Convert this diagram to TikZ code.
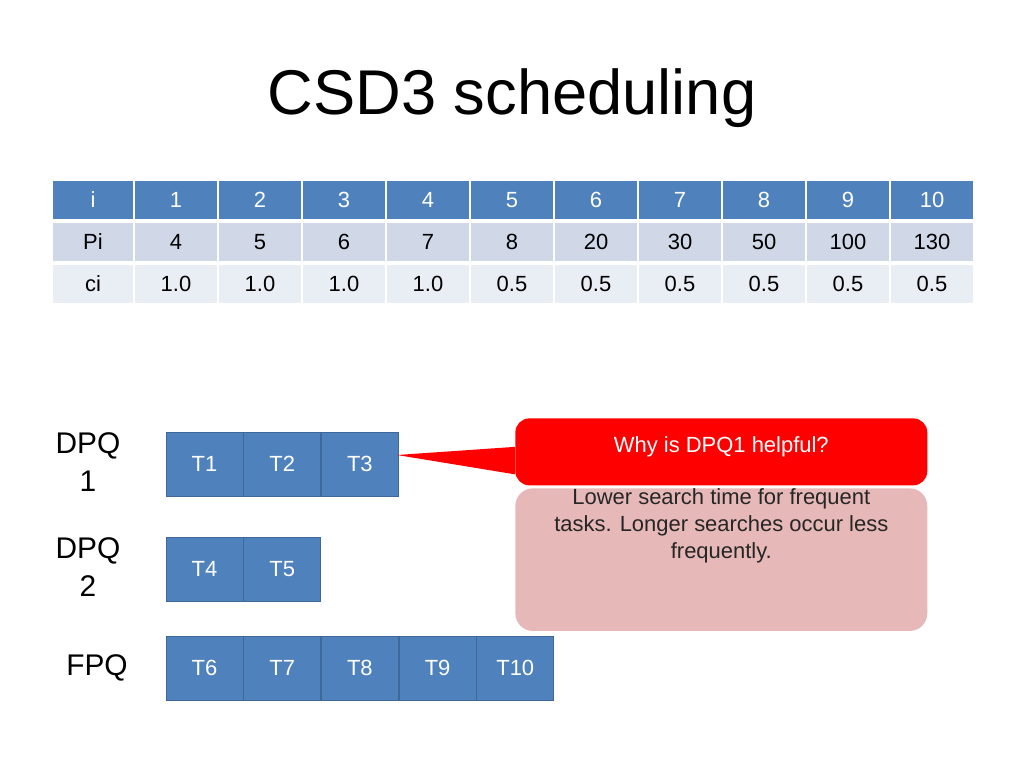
\documentclass[tikz,border=0pt]{standalone}
\usepackage{fontspec}
\setmainfont{Liberation Sans}
\usetikzlibrary{positioning}
\definecolor{hdblue}{RGB}{79,129,189}
\definecolor{rowa}{RGB}{208,216,232}
\definecolor{rowb}{RGB}{233,237,244}
\definecolor{callred}{RGB}{255,0,0}
\definecolor{callpink}{RGB}{230,184,183}
\tikzset{
  cell/.style={fill=#1, draw=white, line width=1.2pt, minimum height=0.8cm, inner sep=0pt, font=\fontsize{12.5}{14}\selectfont},
  task/.style={fill=hdblue, draw=hdblue!80!black, line width=0.4pt, minimum width=1.54cm, minimum height=1.28cm, text=white, font=\fontsize{12.5}{14}\selectfont},
  qlabel/.style={align=center, font=\fontsize{17}{22}\selectfont}
}
\begin{document}
\begin{tikzpicture}[x=0.02cm, y=-0.02cm]
\useasboundingbox (0,0) rectangle (1024,768);
\node (title) at (512,98) {\fontsize{36}{40}\selectfont CSD3 scheduling};

% table
\node (h0) [cell=hdblue, text=white, minimum width=1.64cm] at (93,200) {i};
\node (p0) [cell=rowa, minimum width=1.64cm] at (93,242) {Pi};
\node (c0) [cell=rowb, minimum width=1.64cm] at (93,284) {ci};
\foreach \i/\p/\c [count=\k] in {1/4/1.0, 2/5/1.0, 3/6/1.0, 4/7/1.0, 5/8/0.5, 6/20/0.5, 7/30/0.5, 8/50/0.5, 9/100/0.5, 10/130/0.5} {
  \node (h\k) [cell=hdblue, text=white, minimum width=1.68cm] at (134+42+84*\k-84,200) {\i};
  \node (p\k) [cell=rowa, minimum width=1.68cm] at (134+42+84*\k-84,242) {\p};
  \node (c\k) [cell=rowb, minimum width=1.68cm] at (134+42+84*\k-84,284) {\c};
}

% queues
\node (dpq1) [qlabel] at (88,462) {DPQ\\1};
\node (dpq2) [qlabel] at (88,567) {DPQ\\2};
\node (fpq) [qlabel] at (97,668) {FPQ};
\node (t1) [task] at (204.5,464) {T1};
\node (t2) [task, right=0pt of t1] {T2};
\node (t3) [task, right=0pt of t2] {T3};
\node (t4) [task] at (204.5,569) {T4};
\node (t5) [task, right=0pt of t4] {T5};
\node (t6) [task] at (204.5,668) {T6};
\node (t7) [task, right=0pt of t6] {T7};
\node (t8) [task, right=0pt of t7] {T8};
\node (t9) [task, right=0pt of t8] {T9};
\node (t10) [task, right=0pt of t9] {T10};

% callout
\node (why) [fill=callred, rounded corners=8pt, minimum width=8.24cm, minimum height=1.34cm, text=white, font=\fontsize{12.5}{14}\selectfont, anchor=north west, inner sep=0pt] at (515,418) {\raisebox{0.3cm}{Why is DPQ1 helpful?}};
\coordinate (tip) at (397,455);
\fill[callred] (tip) -- ([yshift=0.1cm]why.west) -- ([yshift=-0.45cm]why.west) -- cycle;
\node (ans) [fill=callpink, rounded corners=10pt, minimum width=8.24cm, minimum height=2.54cm, align=center, text=black!85, font=\fontsize{12.5}{15.5}\selectfont, anchor=north west, inner sep=0pt] at (515,488) {Lower search time for frequent\\tasks. Longer searches occur less\\frequently.\\[0.9cm]};
\end{tikzpicture}
\end{document}
